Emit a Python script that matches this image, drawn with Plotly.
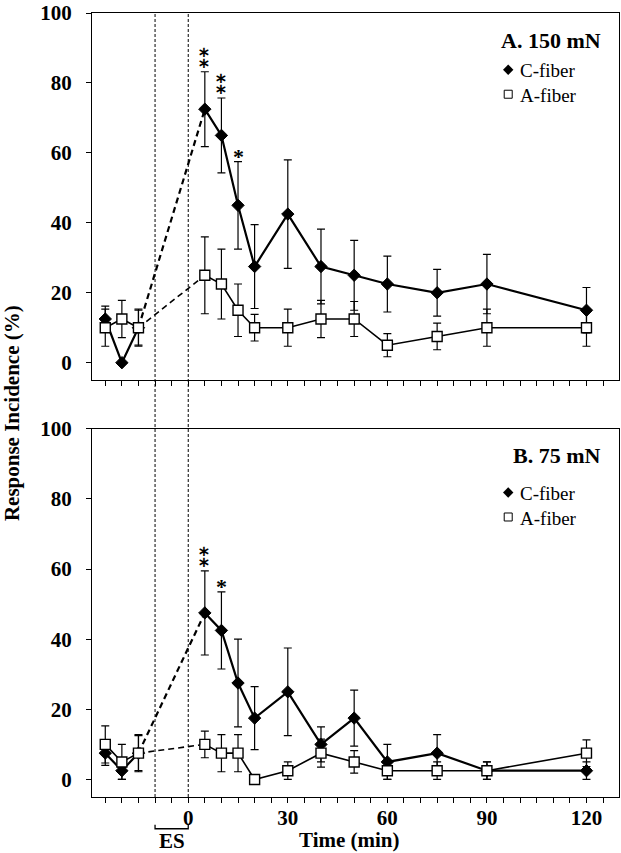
import plotly.graph_objects as go

# ---------------- data ----------------
x_pre = [-25, -20, -15]
x_post = [5, 10, 15, 20, 30, 40, 50, 60, 75, 90, 120]

# Panel A (150 mN)
a150_c_pre = [12.5, 0, 10]
a150_c_pre_se = [3.7, 0, 5]
a150_c_post = [72.5, 65, 45, 27.5, 42.5, 27.5, 25, 22.5, 20, 22.5, 15]
a150_c_post_se = [10.7, 10.7, 12.5, 12, 15.5, 10.7, 10, 8, 6.7, 8.5, 6.5]
a150_a_pre = [10, 12.5, 10]
a150_a_pre_se = [5.3, 5.3, 5.3]
a150_a_post = [25, 22.5, 15, 10, 10, 12.5, 12.5, 5, 7.5, 10, 10]
a150_a_post_se = [11, 10, 7.5, 3.8, 5.3, 5.3, 5, 3.3, 3.8, 5.3, 5.3]
a150_stars = [2, 2, 1, 0, 0, 0, 0, 0, 0, 0, 0]

# Panel B (75 mN)
b75_c_pre = [7.5, 2.5, 7.5]
b75_c_pre_se = [3.5, 2.5, 5]
b75_c_post = [47.5, 42.5, 27.5, 17.5, 25, 10, 17.5, 5, 7.5, 2.5, 2.5]
b75_c_post_se = [12, 11, 12.5, 9, 12.5, 5, 8, 5, 5.3, 2.5, 2.5]
b75_a_pre = [10, 5, 7.5]
b75_a_pre_se = [5.3, 5, 5.3]
b75_a_post = [10, 7.5, 7.5, 0, 2.5, 7.5, 5, 2.5, 2.5, 2.5, 7.5]
b75_a_post_se = [3.8, 5.3, 5.3, 0, 2.5, 4, 3.2, 2.5, 2.5, 2.5, 3.8]
b75_stars = [2, 1, 0, 0, 0, 0, 0, 0, 0, 0, 0]

panel_labels = ["A. 150 mN", "B. 75 mN"]
series_names = ["C-fiber", "A-fiber"]
star_text = {1: "*", 2: "\u2051"}
x_tickvals = list(range(-25, 130, 5))
x_ticklabels = {0: "0", 30: "30", 60: "60", 90: "90", 120: "120"}
y_tickvals = [0, 20, 40, 60, 80, 100]
es_window = [-10, 0]

# ---------------- style ----------------
FONT = "Liberation Serif, Times New Roman, serif"
BLACK = "black"
W, H = 621, 853
ML, MR, MT, MB = 92, 1, 7, 56
PW, PH = W - ML - MR, H - MT - MB
LEG_FS = 19
LEG_STEP = 1.3 * LEG_FS  # plotly line spacing

fig = go.Figure()

def add_series(xa, ya, pre, pre_se, post, post_se, kind):
    if kind == "C":
        marker = dict(symbol="diamond", size=9.5, color=BLACK, line=dict(color=BLACK, width=1))
        lw = 2.2
    else:
        marker = dict(symbol="square", size=10, color="white", line=dict(color=BLACK, width=1.4))
        lw = 1.6
    err = lambda arr: dict(type="data", array=arr, visible=True, color=BLACK, thickness=1.2, width=4)
    # dashed connector across the ES gap
    fig.add_trace(go.Scatter(x=[x_pre[-1], x_post[0]], y=[pre[-1], post[0]], mode="lines",
                             line=dict(color=BLACK, width=lw, dash="6px,4px"),
                             xaxis=xa, yaxis=ya, showlegend=False, hoverinfo="skip"))
    fig.add_trace(go.Scatter(x=x_pre, y=pre, mode="lines+markers", marker=marker,
                             line=dict(color=BLACK, width=lw), error_y=err(pre_se),
                             xaxis=xa, yaxis=ya, showlegend=False))
    fig.add_trace(go.Scatter(x=x_post, y=post, mode="lines+markers", marker=marker,
                             line=dict(color=BLACK, width=lw), error_y=err(post_se),
                             xaxis=xa, yaxis=ya, showlegend=False))

# panel A uses x2/y2 (top), panel B uses x/y (bottom)
add_series("x2", "y2", a150_c_pre, a150_c_pre_se, a150_c_post, a150_c_post_se, "C")
add_series("x2", "y2", a150_a_pre, a150_a_pre_se, a150_a_post, a150_a_post_se, "A")
add_series("x", "y", b75_c_pre, b75_c_pre_se, b75_c_post, b75_c_post_se, "C")
add_series("x", "y", b75_a_pre, b75_a_pre_se, b75_a_post, b75_a_post_se, "A")

# panel domains (pixel rows 7-377 and 426-797 of the page)
TOP_ROWS = (7, 377)
BOT_ROWS = (426, 797)
top_y0, top_y1 = (H - MB - TOP_ROWS[1]) / PH, (H - MB - TOP_ROWS[0]) / PH
bot_y0, bot_y1 = max(0.0, (H - MB - BOT_ROWS[1]) / PH), (H - MB - BOT_ROWS[0]) / PH

def px_to_paper_y(py):
    return (H - MB - py) / PH

def px_to_paper_x(px):
    return (px - ML) / PW

# legend keys on invisible overlay axes, pixel-based ranges (0 = panel top, negative downward)
def key_axis_range(y0, y1):
    hpx = PH * (y1 - y0)
    return [-hpx, 0]

LEG_CENTERS = [77.5, 503.5]   # page rows of the legend block centres
key_rows = [(("x3", "y3"), LEG_CENTERS[0] - TOP_ROWS[0]), (("x4", "y4"), LEG_CENTERS[1] - BOT_ROWS[0])]
for (xa, ya), c in key_rows:
    fig.add_trace(go.Scatter(x=[509 - ML], y=[-(c - LEG_STEP / 2) + 1], mode="markers",
                             marker=dict(symbol="diamond", size=8, color=BLACK),
                             xaxis=xa, yaxis=ya, showlegend=False, hoverinfo="skip"))
    fig.add_trace(go.Scatter(x=[509 - ML], y=[-(c + LEG_STEP / 2) + 1], mode="markers",
                             marker=dict(symbol="square", size=8, color="white",
                                         line=dict(color=BLACK, width=1)),
                             xaxis=xa, yaxis=ya, showlegend=False, hoverinfo="skip"))

annotations = []
# significance stars
for (xr_, yr_, post, post_se, stars) in [("x2", "y2", a150_c_post, a150_c_post_se, a150_stars),
                                          ("x", "y", b75_c_post, b75_c_post_se, b75_stars)]:
    for xv, yv, se, n in zip(x_post, post, post_se, stars):
        if n == 0:
            continue
        if n == 1:
            font = dict(family=FONT, size=22, color=BLACK, weight="bold")
            shift = -9
        else:
            font = dict(family="DejaVu Sans", size=24, color=BLACK, weight="bold")
            shift = -4
        annotations.append(dict(x=xv, y=yv + se, xref=xr_, yref=yr_, text=star_text[n],
                                showarrow=False, xanchor="center", yanchor="bottom",
                                yshift=shift, font=font))

for lab, ly, lc in [(panel_labels[0], 35, LEG_CENTERS[0]), (panel_labels[1], 453, LEG_CENTERS[1])]:
    annotations.append(dict(x=px_to_paper_x(604), y=px_to_paper_y(ly), xref="paper", yref="paper",
                            text="<b>" + lab + "</b>", showarrow=False, xanchor="right", yanchor="middle",
                            font=dict(family=FONT, size=22, color=BLACK)))
    annotations.append(dict(x=px_to_paper_x(519), y=px_to_paper_y(lc), xref="paper", yref="paper",
                            text="<br>".join(series_names), showarrow=False, xanchor="left",
                            yanchor="middle", align="left",
                            font=dict(family=FONT, size=LEG_FS, color=BLACK)))

# axis titles
annotations.append(dict(x=px_to_paper_x(12), y=px_to_paper_y(410), xref="paper", yref="paper",
                        text="<b>Response Incidence (%)</b>", textangle=-90, showarrow=False,
                        xanchor="center", yanchor="middle", font=dict(family=FONT, size=21, color=BLACK)))
annotations.append(dict(x=px_to_paper_x(350), y=px_to_paper_y(840), xref="paper", yref="paper",
                        text="<b>Time (min)</b>", showarrow=False,
                        xanchor="center", yanchor="middle", font=dict(family=FONT, size=21, color=BLACK)))
annotations.append(dict(x=sum(es_window) / 2, y=px_to_paper_y(841), xref="x", yref="paper",
                        text="<b>ES</b>", showarrow=False,
                        xanchor="center", yanchor="middle", font=dict(family=FONT, size=21, color=BLACK)))

shapes = []
for xv in es_window:
    shapes.append(dict(type="line", xref="x", yref="paper", x0=xv, x1=xv, y0=bot_y0, y1=top_y1,
                       line=dict(color=BLACK, width=1, dash="3px,2px")))
yb, yt = px_to_paper_y(829), px_to_paper_y(825)
shapes.append(dict(type="path", xref="x", yref="paper",
                   path=f"M {es_window[0]},{yt} L {es_window[0]},{yb} L {es_window[1]},{yb} L {es_window[1]},{yt}",
                   line=dict(color=BLACK, width=1.3)))

xr = [-29.0, 129.8]
yr = [-5, 100]
tick_text = [x_ticklabels.get(v, "") for v in x_tickvals]

axis_common = dict(showline=True, linecolor=BLACK, linewidth=1.3, mirror=True, ticks="outside",
                   ticklen=5, tickwidth=1.2, tickcolor=BLACK, showgrid=False, zeroline=False,
                   tickfont=dict(family=FONT, size=21, color=BLACK, weight="bold"))

fig.update_layout(
    width=W, height=H,
    margin=dict(l=ML, r=MR, t=MT, b=MB),
    plot_bgcolor="rgba(0,0,0,0)", paper_bgcolor="white",
    showlegend=False,
    xaxis=dict(domain=[0, 1], range=xr, anchor="y", tickvals=x_tickvals, ticktext=tick_text,
               ticklabelstandoff=-3, **axis_common),
    yaxis=dict(domain=[bot_y0, bot_y1], range=yr, anchor="x", tickvals=y_tickvals,
               ticklabelstandoff=10, **axis_common),
    xaxis2=dict(domain=[0, 1], range=xr, anchor="y2", tickvals=x_tickvals, showticklabels=False,
                **axis_common),
    yaxis2=dict(domain=[top_y0, top_y1], range=yr, anchor="x2", tickvals=y_tickvals,
                ticklabelstandoff=10, **axis_common),
    xaxis3=dict(domain=[0, 1], range=[0, PW], anchor="y3", visible=False),
    yaxis3=dict(domain=[top_y0, top_y1], range=key_axis_range(top_y0, top_y1), anchor="x3", visible=False),
    xaxis4=dict(domain=[0, 1], range=[0, PW], anchor="y4", visible=False),
    yaxis4=dict(domain=[bot_y0, bot_y1], range=key_axis_range(bot_y0, bot_y1), anchor="x4", visible=False),
    annotations=annotations,
    shapes=shapes,
)

fig.write_html("out.html", config={"displayModeBar": False},
               post_script="document.body.style.margin='0';document.body.style.padding='0';")
